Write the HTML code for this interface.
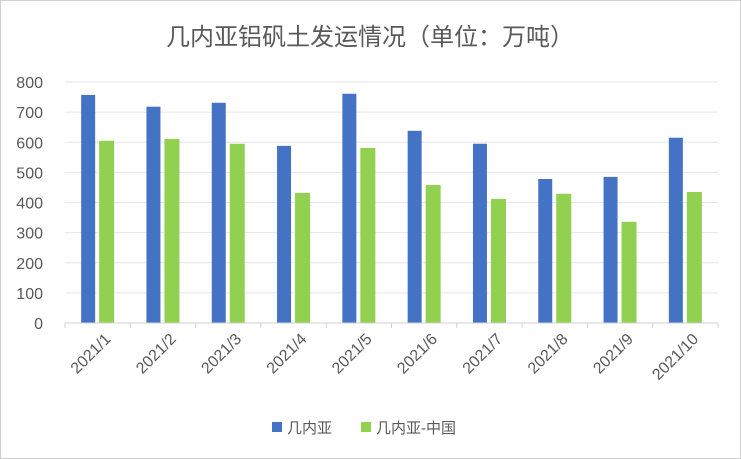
<!DOCTYPE html>
<html><head><meta charset="utf-8"><style>
body{margin:0;background:#fff}
svg{display:block;font-family:"Liberation Sans","Noto Sans CJK SC",sans-serif}
</style></head><body>
<svg width="741" height="459">
<rect x="0.5" y="0.5" width="740" height="458" fill="#fff" stroke="#d0d0d0"/>
<text x="370" y="45" text-anchor="middle" font-size="24" fill="#595959">几内亚铝矾土发运情况（单位：万吨）</text>
<g id="grid"></g><g id="bars"></g><g id="axes"></g>
<g>
<rect x="272" y="422" width="10" height="10" fill="#4472C4"/>
<text x="287" y="433" font-size="15" fill="#595959">几内亚</text>
<rect x="361" y="422" width="10" height="10" fill="#92D050"/>
<text x="376" y="433" font-size="15" fill="#595959">几内亚-中国</text>
</g>
</svg>
<script>
const categories=["2021/1","2021/2","2021/3","2021/4","2021/5","2021/6","2021/7","2021/8","2021/9","2021/10"];
const guinea=[757,718,731,588,761,638,595,478,485,615];
const guineaChina=[605,611,595,432,581,458,412,429,336,435];
const yTicks=[0,100,200,300,400,500,600,700,800];
const NS="http://www.w3.org/2000/svg";
const x0=65,x1=718,y0=323,y1=82,yMax=800;
const bw=(x1-x0)/categories.length;
const y=v=>y0-(v/yMax)*(y0-y1);
const xs=i=>x0+i*bw;
function mk(t,a,p){const e=document.createElementNS(NS,t);for(const k in a)e.setAttribute(k,a[k]);p.appendChild(e);return e;}
const grid=document.getElementById('grid'),bars=document.getElementById('bars'),axes=document.getElementById('axes');
yTicks.forEach(t=>{
 if(t>0){const l=mk('line',{x1:x0,x2:x1,y1:y(t),y2:y(t),stroke:'#e6e6e6','stroke-width':1},grid);
 
 }
 const tx=mk('text',{x:43,y:y(t)+6,'text-anchor':'end','font-size':16,fill:'#595959'},axes);tx.textContent=t;
 
 
});
const ax=mk('line',{x1:x0,x2:x1,y1:y0,y2:y0,stroke:'#d0d0d0','stroke-width':1},axes);


categories.forEach((c,i)=>{
 const tk=mk('line',{x1:xs(i),x2:xs(i),y1:y0,y2:y0+5,stroke:'#d0d0d0'},axes);
 
 
 const cx=xs(i)+bw/2;
 const b1=mk('rect',{x:cx-16.5,y:y(guinea[i]),width:14,height:y0-y(guinea[i]),fill:'#4472C4'},bars);
 
 
 const b2=mk('rect',{x:cx+1.5,y:y(guineaChina[i]),width:15,height:y0-y(guineaChina[i]),fill:'#92D050'},bars);
 
 
 const lb=mk('text',{x:cx+14,y:340,'text-anchor':'end','font-size':16,fill:'#595959',transform:`rotate(-45 ${cx+14} 340)`},axes);
 lb.textContent=c;
 
 
});
const last=mk('line',{x1:x1,x2:x1,y1:y0,y2:y0+5,stroke:'#d0d0d0'},axes);


</script>
</body></html>
